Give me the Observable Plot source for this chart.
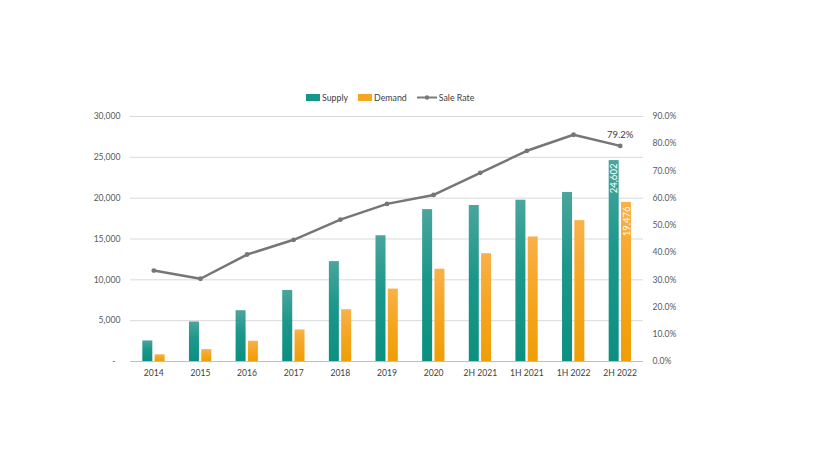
<!DOCTYPE html>
<html>
<head>
<meta charset="utf-8">
<script src="https://cdn.jsdelivr.net/npm/d3@7"></script>
<script src="https://cdn.jsdelivr.net/npm/@observablehq/plot@0.6"></script>
<style>
  html, body { margin: 0; padding: 0; background: #fff; }
  #wrap { position: relative; width: 825px; height: 464px; font-family: Lato, "Open Sans", sans-serif; }
  #legend { position: absolute; top: 92px; left: 306px; display: flex; align-items: center; font-size: 8.8px; color: #404040; white-space: nowrap; }
  #legend .item { display: flex; align-items: center; margin-right: 10px; }
  #legend svg { display: block; margin-right: 2px; }
  #chart { position: absolute; top: 0; left: 0; }
</style>
</head>
<body>
<div id="wrap">
  <div id="chart"></div>
  <div id="legend">
    <div class="item"><svg width="14" height="7"><rect width="14" height="7" fill="#16968a"/></svg>Supply</div>
    <div class="item"><svg width="14" height="7"><rect width="14" height="7" fill="#f5a623"/></svg>Demand</div>
    <div class="item"><svg width="20" height="7"><line x1="0" x2="20" y1="3.5" y2="3.5" stroke="#7a7a7a" stroke-width="2"/><circle cx="10" cy="3.5" r="2.2" fill="#7a7a7a"/></svg>Sale Rate</div>
  </div>
</div>
<script>
const categories = ["2014", "2015", "2016", "2017", "2018", "2019", "2020", "2H 2021", "1H 2021", "1H 2022", "2H 2022"];
const supply = [2520, 4840, 6220, 8700, 12230, 15400, 18600, 19100, 19750, 20700, 24602];
const demand = [820, 1460, 2480, 3860, 6340, 8870, 11300, 13200, 15250, 17250, 19476];
const saleRate = [33.4, 30.4, 39.3, 44.7, 52.1, 57.9, 61.2, 69.3, 77.4, 83.3, 79.2];
const leftTicks = [0, 5000, 10000, 15000, 20000, 25000, 30000];
const rightTicks = [0, 10, 20, 30, 40, 50, 60, 70, 80, 90];

const k = 30000 / 90; // right-axis (percent) to left-axis units
const rows = categories.map((c, i) => ({cat: c, supply: supply[i], demand: demand[i], rate: saleRate[i]}));
const last = rows[rows.length - 1];

const W = 825, ML = 130, MR = 182;
const band = (W - ML - MR) / categories.length;
const barW = 10;
const supOff = -6, demOff = 6.3;

const fmt = d3.format(",");
const txt = "#595959";

const plot = Plot.plot({
  width: W,
  height: 464,
  marginTop: 116,
  marginBottom: 103,
  marginLeft: ML,
  marginRight: MR,
  style: {fontFamily: "Lato, 'Open Sans', sans-serif", fontSize: "8.6px", color: txt, background: "transparent"},
  x: {domain: categories, padding: 0, round: false, axis: null, label: null},
  y: {domain: [0, 30000], axis: null, label: null},
  marks: [
    Plot.ruleY(leftTicks.filter(d => d > 0), {stroke: "#d9d9d9", strokeWidth: 1}),
    Plot.barY(rows, {x: "cat", y: "supply", fill: "url(#gSupply)",
      insetLeft: band / 2 + supOff - barW / 2, insetRight: band / 2 - supOff - barW / 2}),
    Plot.barY(rows, {x: "cat", y: "demand", fill: "url(#gDemand)",
      insetLeft: band / 2 + demOff - barW / 2, insetRight: band / 2 - demOff - barW / 2}),
    Plot.ruleY([0], {stroke: "#bfbfbf", strokeWidth: 1}),
    Plot.line(rows, {x: "cat", y: d => d.rate * k, stroke: "#767676", strokeWidth: 2.5}),
    Plot.dot(rows, {x: "cat", y: d => d.rate * k, r: 2.4, fill: "#767676"}),
    Plot.text([last], {x: "cat", y: d => d.rate * k, text: d => d.rate.toFixed(1) + "%", dy: -11, fill: "#404040", fontSize: 9.5}),
    Plot.text([last], {x: "cat", y: "supply", text: d => fmt(d.supply), rotate: -90, textAnchor: "end", dx: supOff, dy: 3, fill: "white", fontSize: 9.5}),
    Plot.text([last], {x: "cat", y: "demand", text: d => fmt(d.demand), rotate: -90, textAnchor: "end", dx: demOff, dy: 4, fill: "white", fontSize: 9.5}),
    Plot.axisY({anchor: "left", ticks: leftTicks.filter(d => d > 0), tickSize: 0, tickPadding: 10, tickFormat: fmt, fill: txt, label: null}),
    Plot.axisY({anchor: "left", ticks: [0], tickSize: 0, tickPadding: 15, tickFormat: () => "-", fill: txt, label: null}),
    Plot.axisY({anchor: "right", ticks: rightTicks.map(r => r * k), tickSize: 0, tickPadding: 9, tickFormat: d => (d / k).toFixed(1) + "%", fill: txt, label: null}),
    Plot.axisX({anchor: "bottom", tickSize: 0, tickPadding: 8, fill: "#404040", label: null})
  ]
});

const svg = d3.select(plot);
const defs = svg.insert("defs", ":first-child");
const g1 = defs.append("linearGradient").attr("id", "gSupply").attr("x1", 0).attr("y1", 0).attr("x2", 0).attr("y2", 1);
g1.append("stop").attr("offset", "0%").attr("stop-color", "#4aa59d");
g1.append("stop").attr("offset", "45%").attr("stop-color", "#1c978b");
g1.append("stop").attr("offset", "100%").attr("stop-color", "#0b9080");
const g2 = defs.append("linearGradient").attr("id", "gDemand").attr("x1", 0).attr("y1", 0).attr("x2", 0).attr("y2", 1);
g2.append("stop").attr("offset", "0%").attr("stop-color", "#f9b149");
g2.append("stop").attr("offset", "45%").attr("stop-color", "#f6a622");
g2.append("stop").attr("offset", "100%").attr("stop-color", "#ef9e06");

document.getElementById("chart").appendChild(plot);
</script>
</body>
</html>
